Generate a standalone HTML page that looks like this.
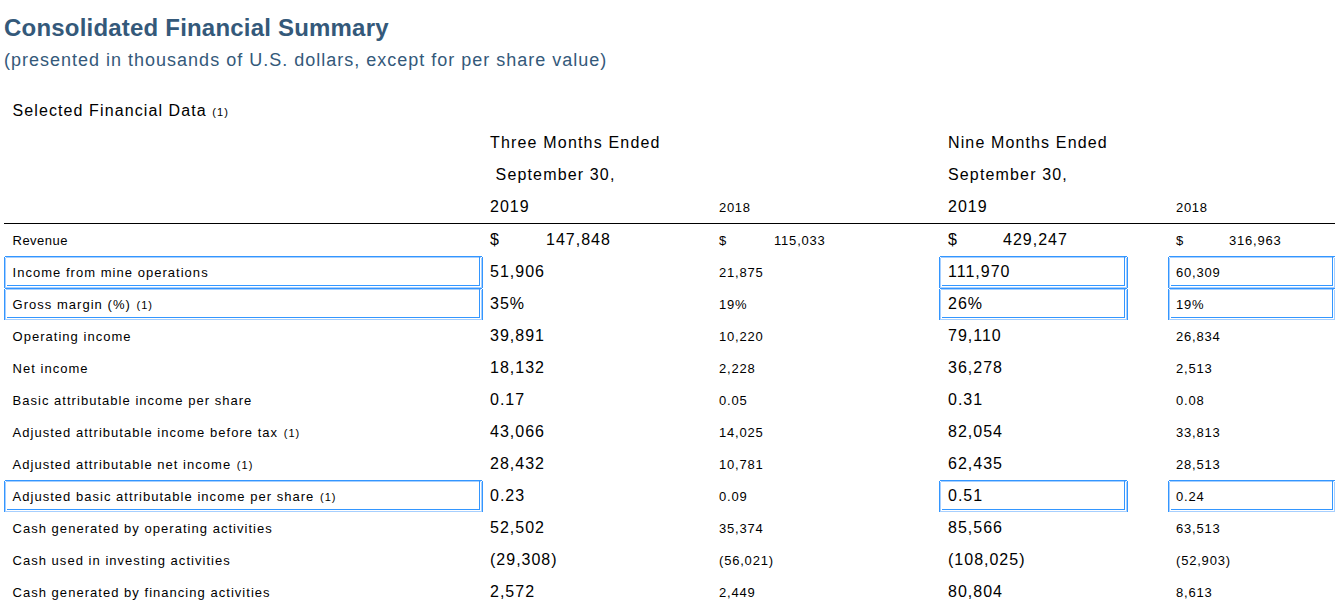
<!DOCTYPE html>
<html><head><meta charset="utf-8"><style>
html,body{margin:0;padding:0;background:#fff;width:1340px;height:607px;overflow:hidden;position:relative}
body{font-family:"Liberation Sans",sans-serif;color:#000;letter-spacing:1px}
.t{position:absolute;white-space:pre;line-height:normal}
.ttl{font-weight:bold;color:#34597a}
.sub{color:#34597a}
small{font-size:11px;margin-left:1px}
.hl{position:absolute;height:1px;background:#000}
.bx{position:absolute;box-sizing:border-box;border:1px solid #3396ff;border-radius:2px}
.ib{position:absolute}
</style></head><body>
<div class="t ttl" style="left:4px;top:14px;font-size:24px;letter-spacing:0.2px;">Consolidated Financial Summary</div>
<div class="t sub" style="left:4px;top:50px;font-size:18px;letter-spacing:1px;">(presented in thousands of U.S. dollars, except for per share value)</div>
<div class="t " style="left:12.5px;top:102px;font-size:16px;letter-spacing:1.1px">Selected Financial Data <small style="margin-left:0">(1)</small></div>
<div class="t " style="left:490px;top:134px;font-size:16px;letter-spacing:1.18px">Three Months Ended</div>
<div class="t " style="left:490px;top:166px;font-size:16px;letter-spacing:1.15px">&nbsp;September 30,</div>
<div class="t " style="left:490px;top:198px;font-size:16px;">2019</div>
<div class="t " style="left:719px;top:200px;font-size:13px;letter-spacing:0.65px">2018</div>
<div class="t " style="left:948px;top:134px;font-size:16px;letter-spacing:1.13px">Nine Months Ended</div>
<div class="t " style="left:948px;top:166px;font-size:16px;letter-spacing:1.15px">September 30,</div>
<div class="t " style="left:948px;top:198px;font-size:16px;">2019</div>
<div class="t " style="left:1176px;top:200px;font-size:13px;letter-spacing:0.65px">2018</div>
<div class="hl" style="left:4px;top:223px;width:1331px"></div>
<div class="ib" style="left:5px;top:256px;width:477px;height:1px;background:#3396ff"></div><div class="ib" style="left:6px;top:257px;width:475px;height:1px;background:#a6cfff"></div><div class="ib" style="left:4px;top:257px;width:1px;height:31px;background:#3396ff"></div><div class="ib" style="left:5px;top:258px;width:1px;height:30px;background:#a6cfff"></div><div class="ib" style="left:482px;top:257px;width:1px;height:31px;background:#3396ff"></div><div class="ib" style="left:481px;top:258px;width:1px;height:30px;background:#a6cfff"></div><div class="ib" style="left:6px;top:287px;width:476px;height:1px;background:#a6cfff"></div><div class="ib" style="left:7px;top:285px;width:473px;height:1px;background:#3396ff"></div><div class="ib" style="left:479px;top:257px;width:1px;height:29px;background:#3396ff"></div>
<div class="ib" style="left:940px;top:256px;width:187px;height:1px;background:#3396ff"></div><div class="ib" style="left:941px;top:257px;width:185px;height:1px;background:#a6cfff"></div><div class="ib" style="left:939px;top:257px;width:1px;height:31px;background:#3396ff"></div><div class="ib" style="left:940px;top:258px;width:1px;height:30px;background:#a6cfff"></div><div class="ib" style="left:1127px;top:257px;width:1px;height:31px;background:#3396ff"></div><div class="ib" style="left:1126px;top:258px;width:1px;height:30px;background:#a6cfff"></div><div class="ib" style="left:941px;top:287px;width:186px;height:1px;background:#a6cfff"></div><div class="ib" style="left:942px;top:285px;width:183px;height:1px;background:#3396ff"></div><div class="ib" style="left:1124px;top:257px;width:1px;height:29px;background:#3396ff"></div>
<div class="ib" style="left:1169px;top:256px;width:166px;height:1px;background:#3396ff"></div><div class="ib" style="left:1170px;top:257px;width:164px;height:1px;background:#a6cfff"></div><div class="ib" style="left:1168px;top:257px;width:1px;height:31px;background:#3396ff"></div><div class="ib" style="left:1169px;top:258px;width:1px;height:30px;background:#a6cfff"></div><div class="ib" style="left:1334px;top:258px;width:1px;height:30px;background:#a6cfff"></div><div class="ib" style="left:1170px;top:287px;width:165px;height:1px;background:#a6cfff"></div><div class="ib" style="left:1171px;top:285px;width:162px;height:1px;background:#3396ff"></div><div class="ib" style="left:1332px;top:257px;width:1px;height:29px;background:#3396ff"></div>
<div class="ib" style="left:5px;top:288px;width:477px;height:1px;background:#3396ff"></div><div class="ib" style="left:6px;top:289px;width:475px;height:1px;background:#a6cfff"></div><div class="ib" style="left:4px;top:289px;width:1px;height:31px;background:#3396ff"></div><div class="ib" style="left:5px;top:290px;width:1px;height:30px;background:#a6cfff"></div><div class="ib" style="left:482px;top:289px;width:1px;height:31px;background:#3396ff"></div><div class="ib" style="left:481px;top:290px;width:1px;height:30px;background:#a6cfff"></div><div class="ib" style="left:6px;top:319px;width:476px;height:1px;background:#a6cfff"></div><div class="ib" style="left:7px;top:317px;width:473px;height:1px;background:#3396ff"></div><div class="ib" style="left:479px;top:289px;width:1px;height:29px;background:#3396ff"></div>
<div class="ib" style="left:940px;top:288px;width:187px;height:1px;background:#3396ff"></div><div class="ib" style="left:941px;top:289px;width:185px;height:1px;background:#a6cfff"></div><div class="ib" style="left:939px;top:289px;width:1px;height:31px;background:#3396ff"></div><div class="ib" style="left:940px;top:290px;width:1px;height:30px;background:#a6cfff"></div><div class="ib" style="left:1127px;top:289px;width:1px;height:31px;background:#3396ff"></div><div class="ib" style="left:1126px;top:290px;width:1px;height:30px;background:#a6cfff"></div><div class="ib" style="left:941px;top:319px;width:186px;height:1px;background:#a6cfff"></div><div class="ib" style="left:942px;top:317px;width:183px;height:1px;background:#3396ff"></div><div class="ib" style="left:1124px;top:289px;width:1px;height:29px;background:#3396ff"></div>
<div class="ib" style="left:1169px;top:288px;width:166px;height:1px;background:#3396ff"></div><div class="ib" style="left:1170px;top:289px;width:164px;height:1px;background:#a6cfff"></div><div class="ib" style="left:1168px;top:289px;width:1px;height:31px;background:#3396ff"></div><div class="ib" style="left:1169px;top:290px;width:1px;height:30px;background:#a6cfff"></div><div class="ib" style="left:1334px;top:290px;width:1px;height:30px;background:#a6cfff"></div><div class="ib" style="left:1170px;top:319px;width:165px;height:1px;background:#a6cfff"></div><div class="ib" style="left:1171px;top:317px;width:162px;height:1px;background:#3396ff"></div><div class="ib" style="left:1332px;top:289px;width:1px;height:29px;background:#3396ff"></div>
<div class="ib" style="left:5px;top:480px;width:477px;height:1px;background:#3396ff"></div><div class="ib" style="left:6px;top:481px;width:475px;height:1px;background:#a6cfff"></div><div class="ib" style="left:4px;top:481px;width:1px;height:31px;background:#3396ff"></div><div class="ib" style="left:5px;top:482px;width:1px;height:30px;background:#a6cfff"></div><div class="ib" style="left:482px;top:481px;width:1px;height:31px;background:#3396ff"></div><div class="ib" style="left:481px;top:482px;width:1px;height:30px;background:#a6cfff"></div><div class="ib" style="left:6px;top:511px;width:476px;height:1px;background:#a6cfff"></div><div class="ib" style="left:7px;top:509px;width:473px;height:1px;background:#3396ff"></div><div class="ib" style="left:479px;top:481px;width:1px;height:29px;background:#3396ff"></div>
<div class="ib" style="left:940px;top:480px;width:187px;height:1px;background:#3396ff"></div><div class="ib" style="left:941px;top:481px;width:185px;height:1px;background:#a6cfff"></div><div class="ib" style="left:939px;top:481px;width:1px;height:31px;background:#3396ff"></div><div class="ib" style="left:940px;top:482px;width:1px;height:30px;background:#a6cfff"></div><div class="ib" style="left:1127px;top:481px;width:1px;height:31px;background:#3396ff"></div><div class="ib" style="left:1126px;top:482px;width:1px;height:30px;background:#a6cfff"></div><div class="ib" style="left:941px;top:511px;width:186px;height:1px;background:#a6cfff"></div><div class="ib" style="left:942px;top:509px;width:183px;height:1px;background:#3396ff"></div><div class="ib" style="left:1124px;top:481px;width:1px;height:29px;background:#3396ff"></div>
<div class="ib" style="left:1169px;top:480px;width:166px;height:1px;background:#3396ff"></div><div class="ib" style="left:1170px;top:481px;width:164px;height:1px;background:#a6cfff"></div><div class="ib" style="left:1168px;top:481px;width:1px;height:31px;background:#3396ff"></div><div class="ib" style="left:1169px;top:482px;width:1px;height:30px;background:#a6cfff"></div><div class="ib" style="left:1334px;top:482px;width:1px;height:30px;background:#a6cfff"></div><div class="ib" style="left:1170px;top:511px;width:165px;height:1px;background:#a6cfff"></div><div class="ib" style="left:1171px;top:509px;width:162px;height:1px;background:#3396ff"></div><div class="ib" style="left:1332px;top:481px;width:1px;height:29px;background:#3396ff"></div>
<div class="t " style="left:12.5px;top:233px;font-size:13px;letter-spacing:0.5px">Revenue</div>
<div class="t " style="left:490px;top:231px;font-size:16px;">$</div>
<div class="t " style="left:546px;top:231px;font-size:16px;">147,848</div>
<div class="t " style="left:719px;top:233px;font-size:13px;letter-spacing:0.8px">$</div>
<div class="t " style="left:774px;top:233px;font-size:13px;letter-spacing:0.8px">115,033</div>
<div class="t " style="left:948px;top:231px;font-size:16px;">$</div>
<div class="t " style="left:1003px;top:231px;font-size:16px;">429,247</div>
<div class="t " style="left:1176px;top:233px;font-size:13px;letter-spacing:0.8px">$</div>
<div class="t " style="left:1229px;top:233px;font-size:13px;letter-spacing:0.8px">316,963</div>
<div class="t " style="left:12.5px;top:265px;font-size:13px;letter-spacing:1.03px">Income from mine operations</div>
<div class="t " style="left:490px;top:263px;font-size:16px;">51,906</div>
<div class="t " style="left:719px;top:265px;font-size:13px;letter-spacing:0.8px">21,875</div>
<div class="t " style="left:948px;top:263px;font-size:16px;">111,970</div>
<div class="t " style="left:1176px;top:265px;font-size:13px;letter-spacing:0.8px">60,309</div>
<div class="t " style="left:12.5px;top:297px;font-size:13px;letter-spacing:1.03px">Gross margin (%) <small>(1)</small></div>
<div class="t " style="left:490px;top:295px;font-size:16px;">35%</div>
<div class="t " style="left:719px;top:297px;font-size:13px;letter-spacing:0.8px">19%</div>
<div class="t " style="left:948px;top:295px;font-size:16px;">26%</div>
<div class="t " style="left:1176px;top:297px;font-size:13px;letter-spacing:0.8px">19%</div>
<div class="t " style="left:12.5px;top:329px;font-size:13px;letter-spacing:1.03px">Operating income</div>
<div class="t " style="left:490px;top:327px;font-size:16px;">39,891</div>
<div class="t " style="left:719px;top:329px;font-size:13px;letter-spacing:0.8px">10,220</div>
<div class="t " style="left:948px;top:327px;font-size:16px;">79,110</div>
<div class="t " style="left:1176px;top:329px;font-size:13px;letter-spacing:0.8px">26,834</div>
<div class="t " style="left:12.5px;top:361px;font-size:13px;letter-spacing:1.03px">Net income</div>
<div class="t " style="left:490px;top:359px;font-size:16px;">18,132</div>
<div class="t " style="left:719px;top:361px;font-size:13px;letter-spacing:0.8px">2,228</div>
<div class="t " style="left:948px;top:359px;font-size:16px;">36,278</div>
<div class="t " style="left:1176px;top:361px;font-size:13px;letter-spacing:0.8px">2,513</div>
<div class="t " style="left:12.5px;top:393px;font-size:13px;letter-spacing:1.03px">Basic attributable income per share</div>
<div class="t " style="left:490px;top:391px;font-size:16px;">0.17</div>
<div class="t " style="left:719px;top:393px;font-size:13px;letter-spacing:0.8px">0.05</div>
<div class="t " style="left:948px;top:391px;font-size:16px;">0.31</div>
<div class="t " style="left:1176px;top:393px;font-size:13px;letter-spacing:0.8px">0.08</div>
<div class="t " style="left:12.5px;top:425px;font-size:13px;letter-spacing:1.03px">Adjusted attributable income before tax <small>(1)</small></div>
<div class="t " style="left:490px;top:423px;font-size:16px;">43,066</div>
<div class="t " style="left:719px;top:425px;font-size:13px;letter-spacing:0.8px">14,025</div>
<div class="t " style="left:948px;top:423px;font-size:16px;">82,054</div>
<div class="t " style="left:1176px;top:425px;font-size:13px;letter-spacing:0.8px">33,813</div>
<div class="t " style="left:12.5px;top:457px;font-size:13px;letter-spacing:1.03px">Adjusted attributable net income <small>(1)</small></div>
<div class="t " style="left:490px;top:455px;font-size:16px;">28,432</div>
<div class="t " style="left:719px;top:457px;font-size:13px;letter-spacing:0.8px">10,781</div>
<div class="t " style="left:948px;top:455px;font-size:16px;">62,435</div>
<div class="t " style="left:1176px;top:457px;font-size:13px;letter-spacing:0.8px">28,513</div>
<div class="t " style="left:12.5px;top:489px;font-size:13px;letter-spacing:1.03px">Adjusted basic attributable income per share <small>(1)</small></div>
<div class="t " style="left:490px;top:487px;font-size:16px;">0.23</div>
<div class="t " style="left:719px;top:489px;font-size:13px;letter-spacing:0.8px">0.09</div>
<div class="t " style="left:948px;top:487px;font-size:16px;">0.51</div>
<div class="t " style="left:1176px;top:489px;font-size:13px;letter-spacing:0.8px">0.24</div>
<div class="t " style="left:12.5px;top:521px;font-size:13px;letter-spacing:1.03px">Cash generated by operating activities</div>
<div class="t " style="left:490px;top:519px;font-size:16px;">52,502</div>
<div class="t " style="left:719px;top:521px;font-size:13px;letter-spacing:0.8px">35,374</div>
<div class="t " style="left:948px;top:519px;font-size:16px;">85,566</div>
<div class="t " style="left:1176px;top:521px;font-size:13px;letter-spacing:0.8px">63,513</div>
<div class="t " style="left:12.5px;top:553px;font-size:13px;letter-spacing:1.03px">Cash used in investing activities</div>
<div class="t " style="left:490px;top:551px;font-size:16px;">(29,308)</div>
<div class="t " style="left:719px;top:553px;font-size:13px;letter-spacing:0.8px">(56,021)</div>
<div class="t " style="left:948px;top:551px;font-size:16px;">(108,025)</div>
<div class="t " style="left:1176px;top:553px;font-size:13px;letter-spacing:0.8px">(52,903)</div>
<div class="t " style="left:12.5px;top:585px;font-size:13px;letter-spacing:1.03px">Cash generated by financing activities</div>
<div class="t " style="left:490px;top:583px;font-size:16px;">2,572</div>
<div class="t " style="left:719px;top:585px;font-size:13px;letter-spacing:0.8px">2,449</div>
<div class="t " style="left:948px;top:583px;font-size:16px;">80,804</div>
<div class="t " style="left:1176px;top:585px;font-size:13px;letter-spacing:0.8px">8,613</div>
</body></html>
